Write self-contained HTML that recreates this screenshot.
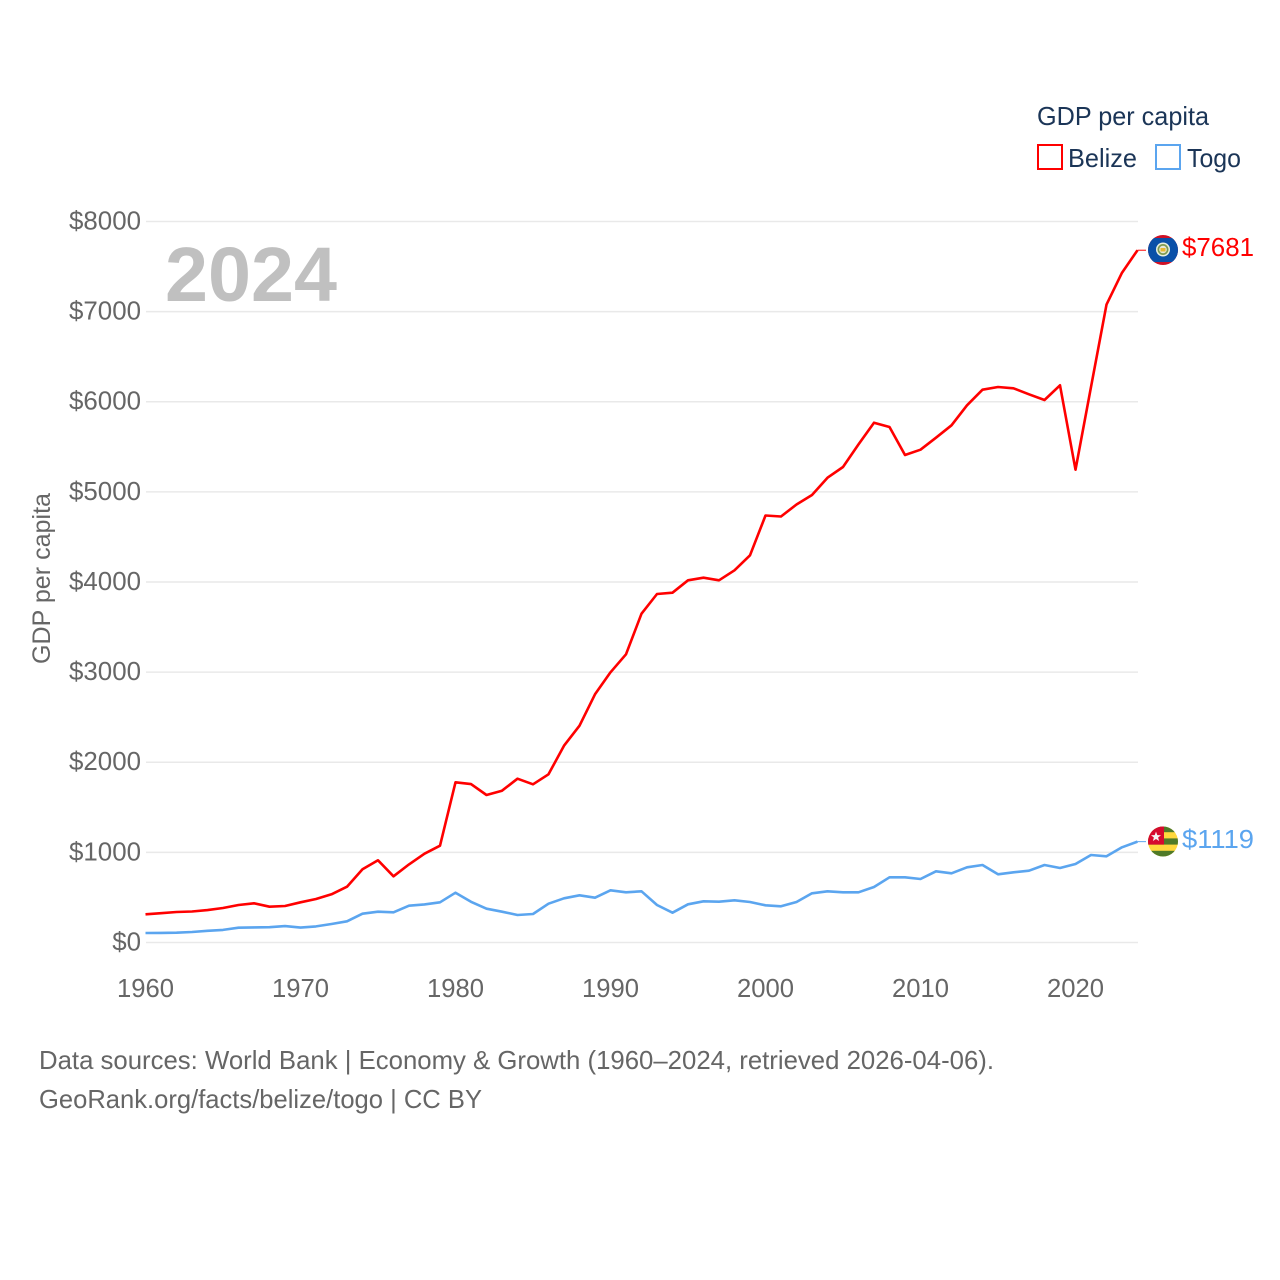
<!DOCTYPE html>
<html lang="en">
<head>
<meta charset="utf-8">
<title>GDP per capita: Belize and Togo</title>
<style>
html,body{margin:0;padding:0;background:#fff;}
svg{display:block;font-family:"Liberation Sans",sans-serif;}
</style>
</head>
<body>
<svg id="chart" xmlns="http://www.w3.org/2000/svg" width="1280" height="1280" viewBox="0 0 1280 1280">
  <defs>
    <clipPath id="flag-clip-belize"><circle cx="1163" cy="250" r="15"/></clipPath>
    <clipPath id="flag-clip-togo"><circle cx="1163" cy="841.5" r="15"/></clipPath>
  </defs>
  <g id="grid"></g>
  <g id="yticks"></g>
  <g id="xticks"></g>
  <text x="165" y="301" font-size="77" font-weight="bold" fill="#c0c0c0" textLength="172" lengthAdjust="spacingAndGlyphs">2024</text>
  <text transform="translate(50,664) rotate(-90)" font-size="25" fill="#666666" textLength="171" lengthAdjust="spacingAndGlyphs">GDP per capita</text>
  <g id="series"></g>

  <g>
    <text x="1037" y="125" font-size="26" fill="#1b3557" textLength="172" lengthAdjust="spacingAndGlyphs">GDP per capita</text>
    <g>
      <rect x="1038" y="145" width="24" height="24" fill="#fff" stroke="#ff0000" stroke-width="2"/>
      <text x="1068" y="167" font-size="26" fill="#1b3557" textLength="69" lengthAdjust="spacingAndGlyphs">Belize</text>
    </g>
    <g>
      <rect x="1156" y="145" width="24" height="24" fill="#fff" stroke="#5ba5ef" stroke-width="2"/>
      <text x="1187" y="167" font-size="26" fill="#1b3557" textLength="54" lengthAdjust="spacingAndGlyphs">Togo</text>
    </g>
  </g>

  <g clip-path="url(#flag-clip-belize)">
    <rect x="1148" y="235" width="30" height="30" fill="#ce1126"/>
    <rect x="1148" y="238" width="30" height="24" fill="#0a50a8"/>
    <circle cx="1163" cy="249.5" r="7" fill="#e8efe0"/>
    <circle cx="1163" cy="249.5" r="5.5" fill="#7f9a50"/>
    <circle cx="1163" cy="249.5" r="3.8" fill="#e8e8d8"/>
    <rect x="1160.5" y="248" width="5" height="3.5" fill="#e8b830"/>
  </g>
  <g clip-path="url(#flag-clip-togo)">
    <rect x="1148" y="826" width="30" height="32" fill="#ffd83d"/>
    <rect x="1148" y="826" width="30" height="6.2" fill="#4f7a28"/>
    <rect x="1148" y="838.4" width="30" height="6.2" fill="#4f7a28"/>
    <rect x="1148" y="850.8" width="30" height="6.4" fill="#4f7a28"/>
    <rect x="1148" y="826" width="16" height="18.6" fill="#d60a2e"/>
    <polygon points="1156,831.6 1157.3,835.1 1161,835.2 1158.1,837.5 1159.1,841 1156,839 1152.9,841 1153.9,837.5 1151,835.2 1154.7,835.1" fill="#f5f5f5"/>
  </g>

  <text id="label-belize" x="1182" y="256" font-size="26" fill="#ff0000" textLength="72" lengthAdjust="spacingAndGlyphs"></text>
  <text id="label-togo" x="1182" y="848" font-size="26" fill="#5ba5ef" textLength="72" lengthAdjust="spacingAndGlyphs"></text>

  <text x="39" y="1069" font-size="26" fill="#666666" textLength="955" lengthAdjust="spacingAndGlyphs">Data sources: World Bank | Economy &amp; Growth (1960–2024, retrieved 2026-04-06).</text>
  <text x="39" y="1108" font-size="26" fill="#666666" textLength="443" lengthAdjust="spacingAndGlyphs">GeoRank.org/facts/belize/togo | CC BY</text>
</svg>
<script>
const startYear = 1960;
const yTickValues = [0, 1000, 2000, 3000, 4000, 5000, 6000, 7000, 8000];
const xTickValues = [1960, 1970, 1980, 1990, 2000, 2010, 2020];
const belizeValues = [313,325,338,344,360,383,416,435,397,405,446,483,535,619,812,912,734,867,985,1074,1777,1758,1636,1684,1817,1755,1866,2183,2405,2754,2998,3198,3648,3867,3881,4019,4047,4019,4130,4296,4738,4727,4860,4965,5157,5276,5527,5767,5719,5409,5468,5601,5738,5960,6133,6163,6149,6082,6019,6182,5246,6163,7077,7431,7681];
const togoValues = [105,106,109,116,130,140,164,168,170,182,165,179,205,235,320,342,335,408,423,446,553,452,375,342,305,316,431,490,524,497,579,557,568,416,331,424,457,453,468,449,413,402,449,546,568,557,557,616,723,723,705,790,768,834,860,757,779,797,860,827,871,971,956,1056,1119];

const SVG_NS = 'http://www.w3.org/2000/svg';
function xScale(year) { return 145.5 + (year - 1960) * 15.5; }
function yScale(value) { return 942.5 - value * 0.09013; }
function money(value) { return '$' + Math.round(value); }

const grid = document.getElementById('grid');
const yTicks = document.getElementById('yticks');
const xTicks = document.getElementById('xticks');
const series = document.getElementById('series');

yTickValues.forEach(function (value) {
  const line = document.createElementNS(SVG_NS, 'line');
  
  
  line.setAttribute('x1', 146);
  line.setAttribute('x2', 1138);
  line.setAttribute('y1', yScale(value));
  line.setAttribute('y2', yScale(value));
  line.setAttribute('stroke', '#e9e9e9');
  line.setAttribute('stroke-width', 1.5);
  grid.appendChild(line);

  const label = document.createElementNS(SVG_NS, 'text');
  
  
  label.setAttribute('x', 141);
  label.setAttribute('y', yScale(value) + 8);
  label.setAttribute('text-anchor', 'end');
  label.setAttribute('font-size', 26);
  label.setAttribute('fill', '#666666');
  label.setAttribute('textLength', money(value).length * 14.4);
  label.setAttribute('lengthAdjust', 'spacingAndGlyphs');
  label.textContent = money(value);
  yTicks.appendChild(label);
});

xTickValues.forEach(function (year) {
  const label = document.createElementNS(SVG_NS, 'text');
  
  
  label.setAttribute('x', xScale(year));
  label.setAttribute('y', 997);
  label.setAttribute('text-anchor', 'middle');
  label.setAttribute('font-size', 26);
  label.setAttribute('fill', '#666666');
  label.setAttribute('textLength', 57);
  label.setAttribute('lengthAdjust', 'spacingAndGlyphs');
  label.textContent = String(year);
  xTicks.appendChild(label);
});

function pathFor(values) {
  return values.map(function (value, i) {
    return (i ? 'L' : 'M') + xScale(startYear + i).toFixed(1) + ' ' + yScale(value).toFixed(1);
  }).join(' ');
}

const belizeLine = document.createElementNS(SVG_NS, 'path');


belizeLine.setAttribute('d', pathFor(belizeValues));
belizeLine.setAttribute('fill', 'none');
belizeLine.setAttribute('stroke', '#ff0000');
belizeLine.setAttribute('stroke-width', 2.6);
belizeLine.setAttribute('stroke-linejoin', 'round');
series.appendChild(belizeLine);

const togoLine = document.createElementNS(SVG_NS, 'path');


togoLine.setAttribute('d', pathFor(togoValues));
togoLine.setAttribute('fill', 'none');
togoLine.setAttribute('stroke', '#5ba5ef');
togoLine.setAttribute('stroke-width', 2.6);
togoLine.setAttribute('stroke-linejoin', 'round');
series.appendChild(togoLine);

const lastYear = startYear + belizeValues.length - 1;
const belizeLast = belizeValues[belizeValues.length - 1];
const togoLast = togoValues[togoValues.length - 1];

const belizeConnector = document.createElementNS(SVG_NS, 'line');


belizeConnector.setAttribute('x1', xScale(lastYear));
belizeConnector.setAttribute('x2', 1146);
belizeConnector.setAttribute('y1', yScale(belizeLast));
belizeConnector.setAttribute('y2', yScale(belizeLast));
belizeConnector.setAttribute('stroke', '#ff0000');
belizeConnector.setAttribute('stroke-width', 1);
series.appendChild(belizeConnector);

const togoConnector = document.createElementNS(SVG_NS, 'line');


togoConnector.setAttribute('x1', xScale(lastYear));
togoConnector.setAttribute('x2', 1146);
togoConnector.setAttribute('y1', yScale(togoLast));
togoConnector.setAttribute('y2', yScale(togoLast));
togoConnector.setAttribute('stroke', '#5ba5ef');
togoConnector.setAttribute('stroke-width', 1);
series.appendChild(togoConnector);

document.getElementById('label-belize').textContent = money(belizeLast);
document.getElementById('label-togo').textContent = money(togoLast);
</script>
</body>
</html>
